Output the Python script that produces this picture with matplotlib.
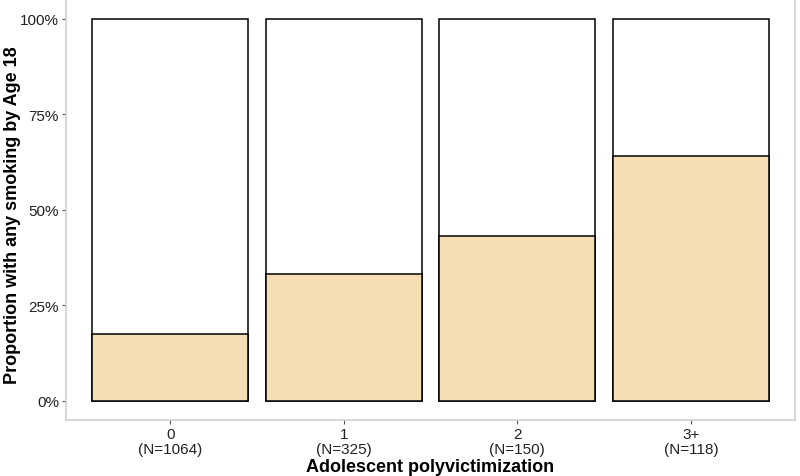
import matplotlib
matplotlib.use('Agg')
import matplotlib.pyplot as plt
import numpy as np

plt.rcParams['font.family'] = ['Liberation Sans', 'DejaVu Sans']

# datos
grupos = ['0', '1', '2', '3+']
n_grupo = [1064, 325, 150, 118]
prop_fuma = [0.175, 0.332, 0.431, 0.640]

etiquetas = [g + '\n(N=' + str(n) + ')' for g, n in zip(grupos, n_grupo)]
x = np.arange(1, len(grupos) + 1)

fig = plt.figure(figsize=(8, 4.77), dpi=100)
ax = fig.add_axes([0.0825, 0.1174, 0.91125, 0.8816])

ancho = 0.9
# parte de fondo (100%) en blanco
ax.bar(x, np.ones(len(x)), width=ancho, color='white', edgecolor='black', linewidth=1.1, zorder=2)
# proporcion con tabaco
ax.bar(x, prop_fuma, width=ancho, color='#F5DEB3', edgecolor='black', linewidth=1.1, zorder=3)

ax.set_xlim(0.4, 4.6)
ax.set_ylim(-0.05, 1.05)
ax.set_yticks([0, 0.25, 0.5, 0.75, 1.0])
ax.set_yticklabels(['0%', '25%', '50%', '75%', '100%'])
ax.set_xticks(x)
ax.set_xticklabels(etiquetas, linespacing=1.12)

for s in ax.spines.values():
    s.set_color('#d0d0d0')
    s.set_linewidth(1.2)

ax.tick_params(axis='both', colors='#555555', length=3, width=0.8, labelsize=11, labelcolor='#222222', pad=2)

ax.set_xlabel('Adolescent polyvictimization', fontsize=13, fontweight='bold', labelpad=1)
ax.set_ylabel('Proportion with any smoking by Age 18', fontsize=13, fontweight='bold')
ax.yaxis.set_label_coords(-0.062, 0.49)

fig.savefig('out.png', dpi=100)
